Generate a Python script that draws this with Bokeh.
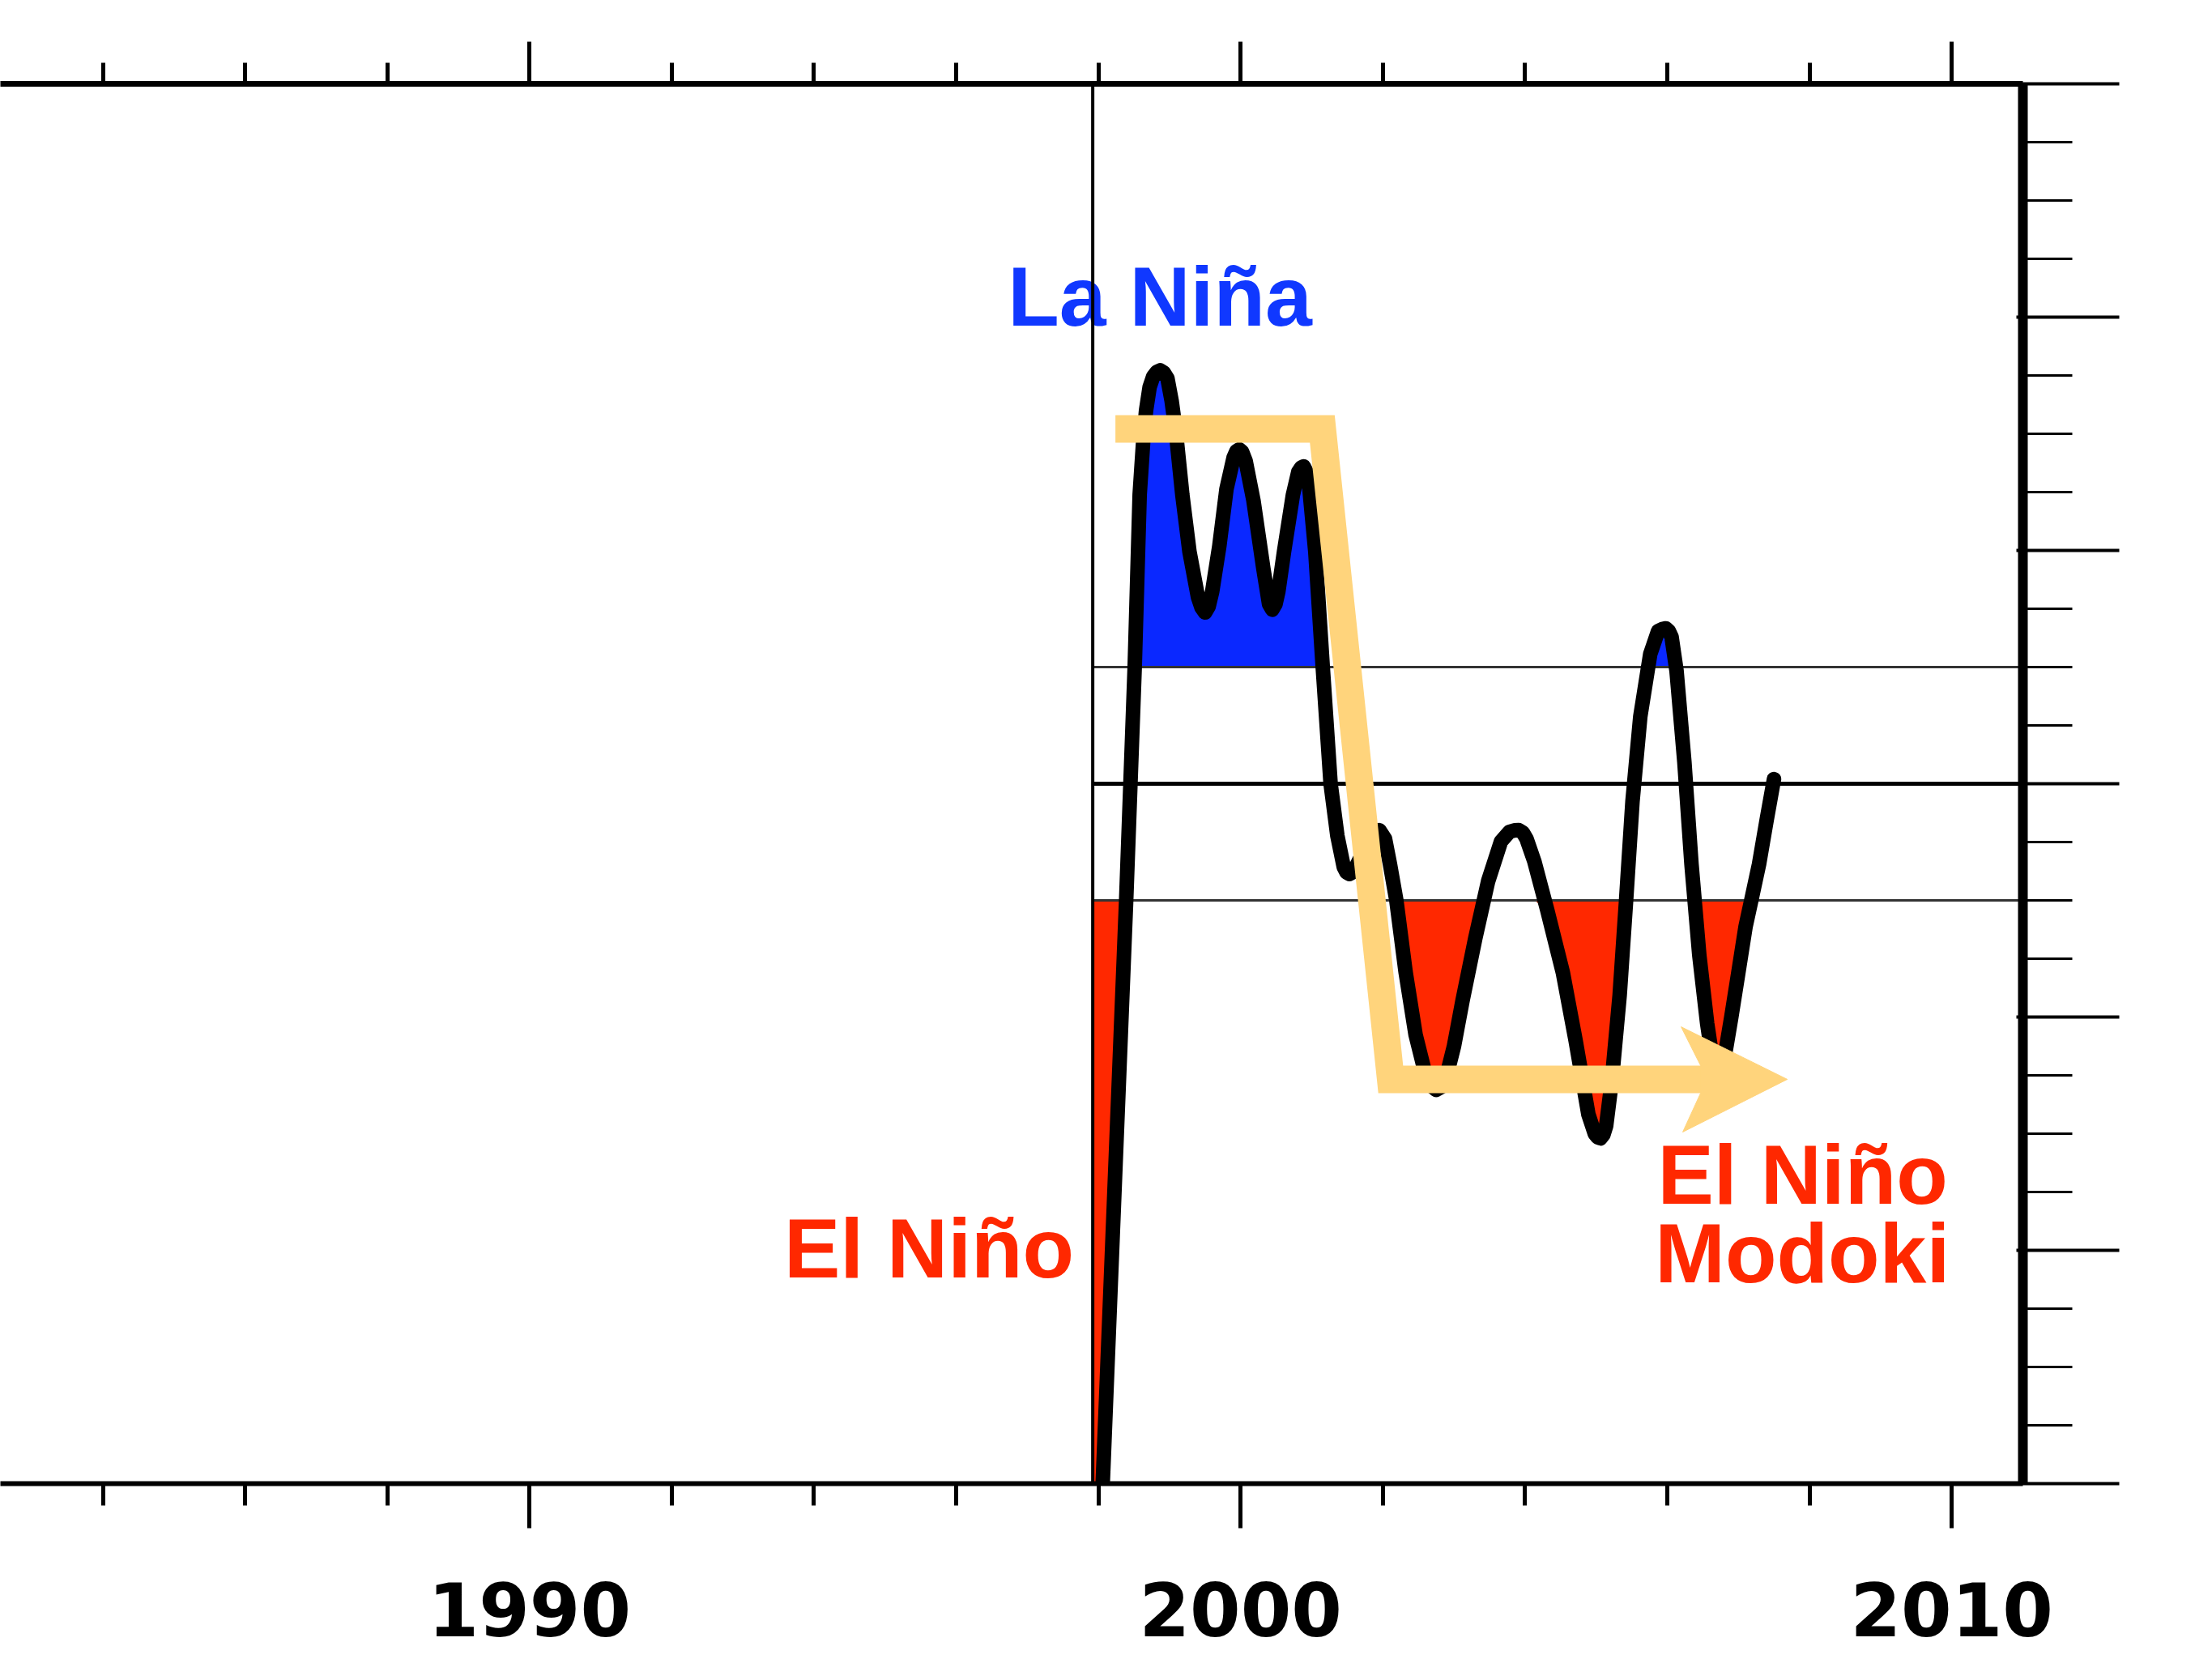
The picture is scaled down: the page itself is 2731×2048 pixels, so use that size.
import numpy as np
from bokeh.plotting import figure
from bokeh.models import (ColumnDataSource, FixedTicker, LinearAxis,
                          CustomJSTickFormatter, Span, Range1d)
from bokeh.core.properties import value
from bokeh.embed import file_html
from bokeh.resources import INLINE

# ---------------- data ----------------
years = [1997.92, 1998.06, 1998.39, 1998.45, 1998.51, 1998.58, 1998.63, 1998.67,
         1998.72, 1998.77, 1998.82, 1998.87, 1998.92, 1998.97, 1999.03, 1999.09,
         1999.18, 1999.28, 1999.40, 1999.45, 1999.50, 1999.55, 1999.60, 1999.70,
         1999.80, 1999.90, 1999.94, 1999.98, 2000.02, 2000.07, 2000.18, 2000.32,
         2000.40, 2000.445, 2000.49, 2000.53, 2000.61, 2000.735, 2000.81, 2000.85,
         2000.887, 2000.92, 2000.96, 2001.05, 2001.155, 2001.265, 2001.36, 2001.45,
         2001.49, 2001.53, 2001.57, 2001.62, 2001.74, 2001.85, 2001.95, 2002.03,
         2002.10, 2002.19, 2002.32, 2002.46, 2002.61, 2002.68, 2002.75, 2002.82,
         2002.88, 2003.00, 2003.12, 2003.30, 2003.48, 2003.66, 2003.78, 2003.85,
         2003.91, 2003.97, 2004.02, 2004.13, 2004.31, 2004.53, 2004.71, 2004.89,
         2004.98, 2005.02, 2005.06, 2005.10, 2005.14, 2005.22, 2005.33, 2005.42,
         2005.51, 2005.62, 2005.76, 2005.87, 2005.93, 2005.98, 2006.02, 2006.06,
         2006.13, 2006.24, 2006.34, 2006.45, 2006.56, 2006.64, 2006.71, 2006.79,
         2006.90, 2007.00, 2007.10, 2007.18, 2007.29, 2007.40, 2007.50]
index_values = [-4.00, -3.00, -0.50, 0.00, 0.50, 1.24, 1.47, 1.60,
                1.70, 1.745, 1.765, 1.772, 1.762, 1.738, 1.64, 1.506,
                1.238, 0.995, 0.80, 0.755, 0.734, 0.76, 0.824, 1.019,
                1.262, 1.397, 1.425, 1.433, 1.423, 1.384, 1.214, 0.921,
                0.77, 0.746, 0.77, 0.824, 0.995, 1.238, 1.336, 1.355,
                1.36, 1.34, 1.287, 0.995, 0.498, 0.00, -0.223, -0.357,
                -0.38, -0.387, -0.38, -0.357, -0.284, -0.223, -0.199, -0.236,
                -0.345, -0.501, -0.808, -1.076, -1.259, -1.295, -1.312, -1.30,
                -1.271, -1.125, -0.93, -0.662, -0.418, -0.248, -0.206, -0.20,
                -0.199, -0.21, -0.236, -0.333, -0.54, -0.808, -1.10, -1.417,
                -1.50, -1.515, -1.52, -1.505, -1.466, -1.271, -0.906, -0.501,
                -0.077, 0.288, 0.556, 0.654, 0.663, 0.666, 0.655, 0.629,
                0.483, 0.093, -0.345, -0.735, -1.027, -1.19, -1.27, -1.20,
                -1.00, -0.808, -0.613, -0.501, -0.345, -0.15, 0.02]

threshold = 0.5
series_start = 1997.92
axis_right = 2011.0
x_start = 1982.559

x_major = [1990, 2000, 2010]
x_minor = [1984, 1986, 1988, 1992, 1994, 1996, 1998, 2002, 2004, 2006, 2008]
x_tick_labels = {1990: "1990", 2000: "2000", 2010: "2010"}
y_major = [-3, -2, -1, 0, 1, 2, 3]
y_minor = [-2.75, -2.5, -2.25, -1.75, -1.5, -1.25, -0.75, -0.5, -0.25,
           0.25, 0.5, 0.75, 1.25, 1.5, 1.75, 2.25, 2.5, 2.75]

# annotation texts
left_texts = ["La Niña", "El Niño"]
left_x = [1996.724, 1993.578]
left_y = [2.09, -1.99]
left_colors = ["#1038FF", "#FF2800"]
center_texts = ["El Niño", "Modoki"]
center_x = [2007.903, 2007.90]
center_y = [-1.677, -2.011]
center_colors = ["#FF2800", "#FF2800"]

# schematic regime-shift arrow
arrow_x = [1998.239, 2001.148, 2002.11, 2006.55]
arrow_y = [1.521, 1.521, -1.267, -1.267]
head_x = [2006.194, 2007.687, 2006.217, 2006.468, 2006.468]
head_y = [-1.042, -1.267, -1.493, -1.326, -1.208]

# ---------------- figure ----------------
p = figure(width=2717, height=2048,
           x_range=Range1d(x_start, axis_right), y_range=Range1d(-3, 3),
           output_backend="svg", toolbar_location=None,
           x_axis_location=None, y_axis_location=None,
           min_border_left=0, min_border_right=220,
           min_border_top=103, min_border_bottom=217)
p.outline_line_color = None
p.grid.grid_line_color = None
p.background_fill_color = "white"
p.border_fill_color = "white"

empty = CustomJSTickFormatter(code="return ''")

bottom = LinearAxis(ticker=FixedTicker(ticks=x_major, minor_ticks=x_minor))
bottom.major_label_overrides = x_tick_labels
bottom.axis_line_width = 6
bottom.major_tick_line_width = 5
bottom.minor_tick_line_width = 5
bottom.major_tick_in = 0
bottom.major_tick_out = 55
bottom.minor_tick_in = 0
bottom.minor_tick_out = 27
bottom.major_label_text_font = "DejaVu Sans"
bottom.major_label_text_font_style = "bold"
bottom.major_label_text_font_size = "90px"
bottom.major_label_text_color = "black"
bottom.major_label_standoff = 66
p.add_layout(bottom, "below")

top = LinearAxis(ticker=FixedTicker(ticks=x_major, minor_ticks=x_minor), formatter=empty)
top.axis_line_width = 7
top.major_tick_line_width = 5
top.minor_tick_line_width = 5
top.major_tick_in = 0
top.major_tick_out = 52
top.minor_tick_in = 0
top.minor_tick_out = 26
top.major_label_standoff = 0
top.major_label_text_font_size = "10px"
p.add_layout(top, "above")

right = LinearAxis(ticker=FixedTicker(ticks=y_major, minor_ticks=y_minor), formatter=empty)
right.axis_line_width = 12
right.major_tick_line_width = 4
right.minor_tick_line_width = 3
right.major_tick_in = 8
right.major_tick_out = 119
right.minor_tick_in = 0
right.minor_tick_out = 61
right.major_label_standoff = 0
right.major_label_text_font_size = "10px"
p.add_layout(right, "right")

# fills beyond the +/- threshold
v = np.array(index_values)
p.varea(x=years, y1=threshold, y2=np.maximum(v, threshold), fill_color="#0A28FF")
p.varea(x=years, y1=-threshold, y2=np.minimum(v, -threshold), fill_color="#FF2800")

# reference lines
p.segment(x0=[series_start, series_start], x1=[axis_right, axis_right],
          y0=[threshold, -threshold], y1=[threshold, -threshold],
          line_width=3, line_color="#333333")
p.segment(x0=[series_start], x1=[axis_right], y0=[0], y1=[0],
          line_width=5, line_color="black")
p.add_layout(Span(location=series_start, dimension="height",
                  line_color="black", line_width=4))

# index curve
p.line(years, index_values, line_width=18, line_color="black",
       line_join="round", line_cap="round")

# arrow
p.line(arrow_x, arrow_y, line_width=34, line_color="#FFD47C",
       line_join="miter", line_cap="butt")
p.patch(head_x, head_y, fill_color="#FFD47C", line_color="#FFD47C", line_width=1)

# labels
src_l = ColumnDataSource(dict(x=left_x, y=left_y, text=left_texts, color=left_colors))
p.text(x="x", y="y", text="text", source=src_l, text_color="color",
       text_align="left", text_baseline="alphabetic", text_font_style="bold",
       text_font=value("Liberation Sans"), text_font_size=value("104px"))
src_c = ColumnDataSource(dict(x=center_x, y=center_y, text=center_texts, color=center_colors))
p.text(x="x", y="y", text="text", source=src_c, text_color="color",
       text_align="center", text_baseline="alphabetic", text_font_style="bold",
       text_font=value("Liberation Sans"), text_font_size=value("104px"))

open("out.html", "w").write(file_html(p, INLINE))
